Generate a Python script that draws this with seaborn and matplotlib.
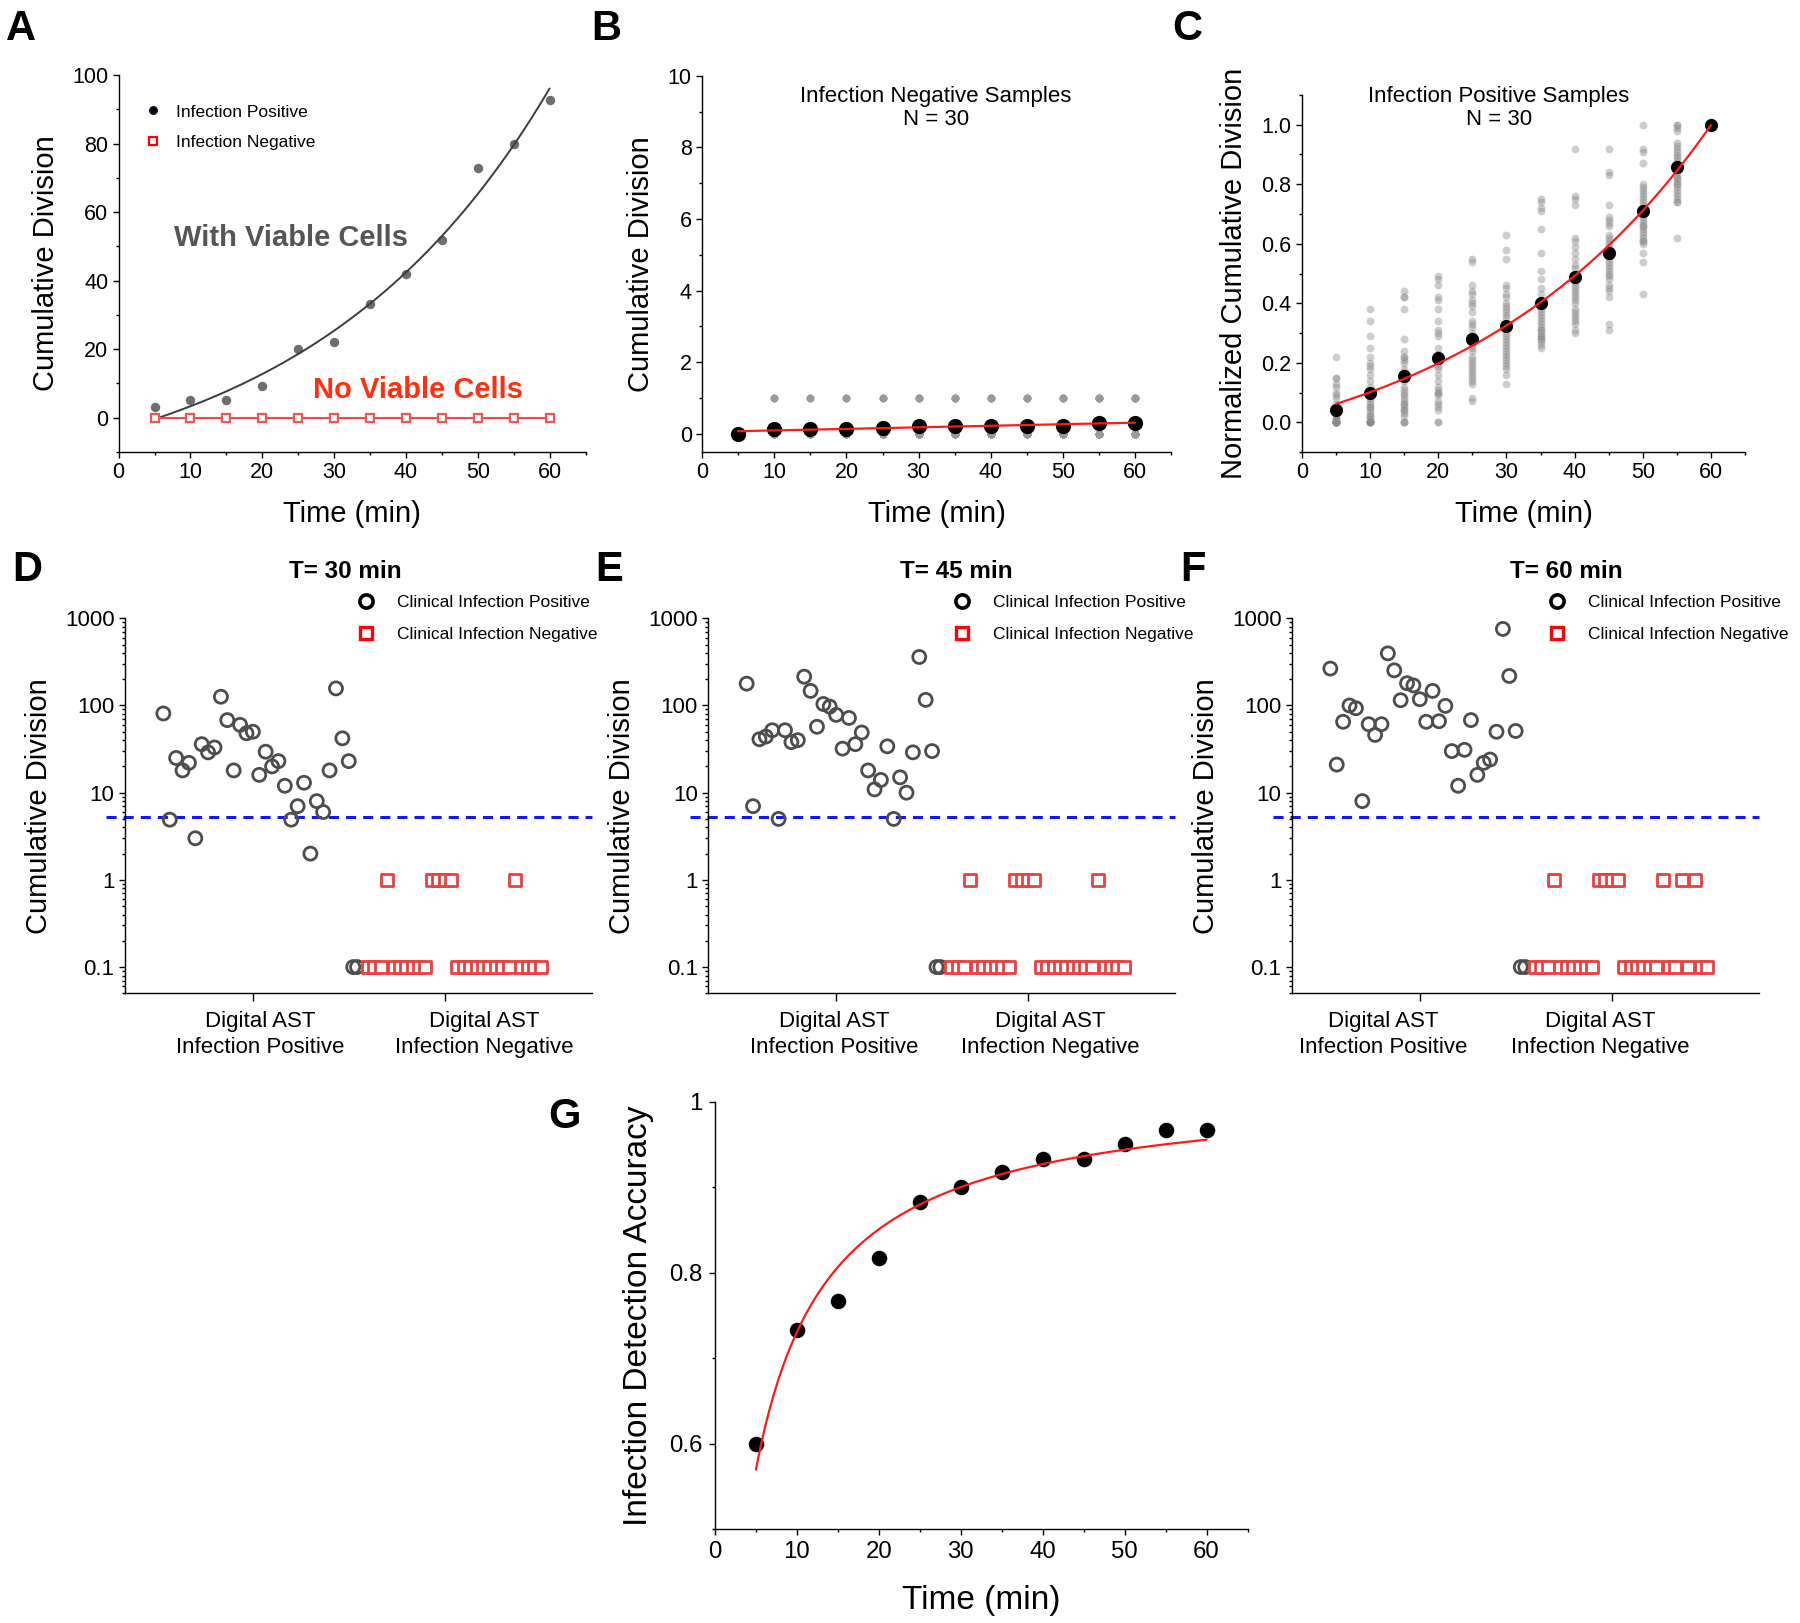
"""
Digital AST figure: cumulative division vs time, per-sample scatter at 30/45/60 min,
and infection detection accuracy.
"""

import numpy as np
import pandas as pd
import matplotlib
matplotlib.use("Agg")
import matplotlib.pyplot as plt
from matplotlib.lines import Line2D
from matplotlib.ticker import MultipleLocator, FixedLocator, FuncFormatter, LogLocator, NullFormatter
import seaborn as sns

sns.set_theme(style="ticks")
plt.rcParams["font.family"] = ["Liberation Sans", "DejaVu Sans"]
plt.rcParams["text.color"] = "black"
plt.rcParams["axes.labelcolor"] = "black"

# ──────────────────────────────────────────────────────────
#  Data
# ──────────────────────────────────────────────────────────
TIME = [5, 10, 15, 20, 25, 30, 35, 40, 45, 50, 55, 60]

# A: single positive / negative sample
A_POS = [3.0, 5.0, 5.0, 9.1, 20.0, 22.0, 33.1, 42.0, 51.9, 72.9, 79.8, 92.7]
A_NEG = [0, 0, 0, 0, 0, 0, 0, 0, 0, 0, 0, 0]

# B: infection-negative samples, number of samples (of 30) with one division
B_N = 30
B_ONE_COUNT = [0, 4, 4, 4, 5, 7, 7, 7, 7, 7, 9, 9]

# C: infection-positive samples, normalized cumulative division per sample
C_T05 = [0.22, 0.15, 0.15, 0.13, 0.12, 0.10, 0.09, 0.08, 0.06, 0.05, 0.04, 0.04, 0.03, 0.02, 0.02,
         0.01, 0.01, 0.0, 0.0, 0.0, 0.0, 0.0, 0.0, 0.0, 0.0, 0.0, 0.0, 0.0, 0.0, 0.0]
C_T10 = [0.38, 0.34, 0.29, 0.25, 0.22, 0.20, 0.19, 0.18, 0.16, 0.14, 0.12, 0.10, 0.09, 0.08, 0.07,
         0.06, 0.05, 0.05, 0.04, 0.03, 0.02, 0.02, 0.01, 0.0, 0.0, 0.0, 0.0, 0.0, 0.0, 0.0]
C_T15 = [0.44, 0.42, 0.42, 0.38, 0.28, 0.24, 0.22, 0.22, 0.21, 0.20, 0.18, 0.17, 0.15, 0.14, 0.12,
         0.11, 0.10, 0.09, 0.08, 0.07, 0.06, 0.06, 0.05, 0.04, 0.04, 0.03, 0.02, 0.0, 0.0, 0.0]
C_T20 = [0.49, 0.48, 0.46, 0.42, 0.41, 0.38, 0.34, 0.31, 0.30, 0.29, 0.25, 0.23, 0.22, 0.21, 0.20,
         0.19, 0.18, 0.16, 0.14, 0.12, 0.11, 0.10, 0.10, 0.09, 0.07, 0.06, 0.05, 0.04, 0.0, 0.0]
C_T25 = [0.55, 0.54, 0.46, 0.44, 0.43, 0.41, 0.40, 0.39, 0.37, 0.34, 0.33, 0.32, 0.30, 0.29, 0.28,
         0.26, 0.25, 0.24, 0.22, 0.21, 0.20, 0.19, 0.18, 0.17, 0.16, 0.15, 0.14, 0.13, 0.08, 0.07]
C_T30 = [0.63, 0.58, 0.55, 0.46, 0.45, 0.43, 0.42, 0.40, 0.39, 0.38, 0.37, 0.36, 0.35, 0.33, 0.32,
         0.30, 0.29, 0.28, 0.27, 0.26, 0.25, 0.24, 0.23, 0.22, 0.21, 0.20, 0.19, 0.18, 0.16, 0.13]
C_T35 = [0.75, 0.74, 0.72, 0.71, 0.65, 0.57, 0.51, 0.48, 0.45, 0.43, 0.41, 0.40, 0.39, 0.38, 0.37,
         0.36, 0.35, 0.34, 0.33, 0.32, 0.31, 0.31, 0.30, 0.29, 0.29, 0.28, 0.28, 0.27, 0.26, 0.25]
C_T40 = [0.92, 0.76, 0.75, 0.73, 0.62, 0.61, 0.59, 0.57, 0.55, 0.53, 0.52, 0.50, 0.49, 0.48, 0.47,
         0.46, 0.45, 0.44, 0.43, 0.42, 0.41, 0.40, 0.38, 0.37, 0.36, 0.35, 0.34, 0.33, 0.31, 0.30]
C_T45 = [0.92, 0.84, 0.83, 0.73, 0.69, 0.68, 0.67, 0.66, 0.63, 0.62, 0.61, 0.60, 0.59, 0.58, 0.57,
         0.56, 0.55, 0.54, 0.53, 0.52, 0.51, 0.50, 0.49, 0.48, 0.46, 0.45, 0.44, 0.42, 0.33, 0.31]
C_T50 = [1.0, 0.92, 0.91, 0.87, 0.80, 0.79, 0.78, 0.77, 0.76, 0.75, 0.74, 0.73, 0.72, 0.71, 0.70,
         0.69, 0.68, 0.67, 0.66, 0.66, 0.65, 0.64, 0.63, 0.62, 0.61, 0.61, 0.60, 0.57, 0.54, 0.43]
C_T55 = [1.0, 1.0, 0.99, 0.98, 0.94, 0.93, 0.92, 0.91, 0.90, 0.89, 0.88, 0.87, 0.86, 0.86, 0.85,
         0.84, 0.83, 0.82, 0.82, 0.81, 0.80, 0.80, 0.79, 0.78, 0.77, 0.76, 0.75, 0.74, 0.74, 0.62]
C_T60 = [1.0, 1.0, 1.0, 1.0, 1.0, 1.0, 1.0, 1.0, 1.0, 1.0]
C_MEAN = [0.04, 0.10, 0.154, 0.215, 0.279, 0.322, 0.40, 0.488, 0.568, 0.71, 0.858, 1.0]

# D-F: per-sample cumulative division (0 plotted at 0.1)
POS_X = list(range(1, 31))
NEG_X = list(range(33, 61))
D_POS = [81, 4.9, 25, 18, 22, 3.0, 36, 29, 33, 126, 68, 18, 60, 48, 50,
         16, 29.5, 20, 23, 12, 4.9, 7.0, 13, 2.0, 8.0, 6.0, 18, 157, 42, 23]
E_POS = [178, 7.0, 41, 44, 52, 5.0, 52, 38, 40, 214, 147, 57, 104, 97, 78,
         32, 72, 36, 49, 18, 10.9, 14, 34, 5.0, 15, 10, 29, 360, 116, 30]
F_POS = [265, 21, 65, 100, 93, 8.0, 61, 46, 61, 396, 253, 115, 180, 170, 118,
         65, 147, 66, 99, 30, 12, 31, 68, 16, 22, 24, 50, 755, 218, 51]
D_POS_ZERO_X = [30.7, 31.3]
E_POS_ZERO_X = [30.7, 31.3]
F_POS_ZERO_X = [30.8, 31.5]
#         33   34   35   36  37   38   39   40   41   42   43 44 45 46
D_NEG = [0.1, 0.1, 0.1, 1, 0.1, 0.1, 0.1, 0.1, 0.1, 0.1, 1, 1, 1, 1,
         0.1, 0.1, 0.1, 0.1, 0.1, 0.1, 0.1, 0.1, 0.1, 1, 0.1, 0.1, 0.1, 0.1]
E_NEG = [0.1, 0.1, 0.1, 1, 0.1, 0.1, 0.1, 0.1, 0.1, 0.1, 1, 1, 1, 1,
         0.1, 0.1, 0.1, 0.1, 0.1, 0.1, 0.1, 0.1, 0.1, 1, 0.1, 0.1, 0.1, 0.1]
F_NEG = [0.1, 0.1, 0.1, 1, 0.1, 0.1, 0.1, 0.1, 0.1, 0.1, 1, 1, 1, 1,
         0.1, 0.1, 0.1, 0.1, 0.1, 0.1, 1, 0.1, 0.1, 1, 0.1, 1, 0.1, 0.1]
THRESHOLD = 5.2
GROUP_TICKS = [15, 45]
GROUP_LABELS = ["Digital AST\nInfection Positive", "Digital AST\nInfection Negative"]

# G: detection accuracy
G_ACC = [0.600, 0.733, 0.767, 0.817, 0.883, 0.900, 0.917, 0.933, 0.933, 0.950, 0.967, 0.967]

# ──────────────────────────────────────────────────────────
#  Fits
# ──────────────────────────────────────────────────────────
def fit_exp(x, y):
    """y = y0 + a*exp(x/t), least squares over a grid of t."""
    x, y = np.asarray(x, float), np.asarray(y, float)
    best = None
    for t in np.linspace(5, 300, 3000):
        X = np.column_stack([np.ones_like(x), np.exp(x / t)])
        coef = np.linalg.lstsq(X, y, rcond=None)[0]
        err = np.sum((X @ coef - y) ** 2)
        if best is None or err < best[0]:
            best = (err, t, coef)
    _, t, (y0, a) = best
    return lambda xx: y0 + a * np.exp(xx / t)


def fit_hyperbola(x, y):
    """y = ymax*x/(k+x), least squares over a grid of k."""
    x, y = np.asarray(x, float), np.asarray(y, float)
    best = None
    for k in np.linspace(0.2, 30, 3000):
        f = x / (k + x)
        ymax = (f @ y) / (f @ f)
        err = np.sum((ymax * f - y) ** 2)
        if best is None or err < best[0]:
            best = (err, k, ymax)
    _, k, ymax = best
    return lambda xx: ymax * xx / (k + xx)


# ──────────────────────────────────────────────────────────
#  Layout helpers
# ──────────────────────────────────────────────────────────
W, H = 1800, 1623
fig = plt.figure(figsize=(W / 100, H / 100), dpi=100)
fig.patch.set_facecolor("white")


def panel(l, t, r, b):
    return fig.add_axes([l / W, 1 - b / H, (r - l) / W, (b - t) / H])


def style_axes(ax, tick_size, pad=3):
    sns.despine(ax=ax)
    for side in ("left", "bottom"):
        ax.spines[side].set_linewidth(1.0)
        ax.spines[side].set_color("black")
    ax.tick_params(which="major", direction="out", length=4.5, width=1.0,
                   colors="black", labelsize=tick_size, pad=pad)
    ax.tick_params(which="minor", direction="out", length=2.5, width=1.0, colors="black")
    ax.grid(False)
    ax.set_facecolor("white")


def time_axis(ax):
    ax.set_xlim(0, 65)
    ax.xaxis.set_major_locator(FixedLocator([0, 10, 20, 30, 40, 50, 60]))
    ax.xaxis.set_minor_locator(MultipleLocator(5))


def letter(x, y, s):
    fig.text(x / W, 1 - y / H, s, fontsize=30, fontweight="bold", ha="left", va="top")


fmt_g = FuncFormatter(lambda v, _: f"{v:g}")
LABEL_FS = 21
TICK_FS = 15.5

# ──────────────────────────────────────────────────────────
#  A
# ──────────────────────────────────────────────────────────
ax = panel(118.6, 75, 585.5, 451.8)
sns.scatterplot(x=TIME, y=A_POS, ax=ax, color="#6d6d6d", s=46, linewidth=0, zorder=3)
xx = np.linspace(TIME[0], TIME[-1], 200)
fa = fit_exp(TIME, A_POS)
sns.lineplot(x=xx, y=fa(xx), ax=ax, color="#3c3c3c", lw=1.4, zorder=4)
sns.lineplot(x=TIME, y=A_NEG, ax=ax, color="#ef4b4b", lw=1.5, marker="s", ms=6,
             mfc="white", mec="#ef5555", mew=1.6, zorder=5)
time_axis(ax)
ax.set_ylim(-10, 100)
ax.yaxis.set_major_locator(FixedLocator([0, 20, 40, 60, 80, 100]))
ax.yaxis.set_minor_locator(MultipleLocator(10))
style_axes(ax, TICK_FS)
ax.set_xlabel("Time (min)", fontsize=LABEL_FS)
ax.set_ylabel("Cumulative Division", fontsize=LABEL_FS)
ax.xaxis.set_label_coords(0.5, -0.128)
ax.yaxis.set_label_coords(-0.125, 0.5)
ax.text(7.7, 52.4, "With Viable Cells", fontsize=21, fontweight="bold", color="#555555",
        ha="left", va="center")
ax.text(27.1, 8.1, "No Viable Cells", fontsize=21, fontweight="bold", color="#ff3010",
        ha="left", va="center")
ax.legend(handles=[
    Line2D([], [], ls="", marker="o", ms=5.5, color="black", mec="#1a1a40", label="Infection Positive"),
    Line2D([], [], ls="", marker="s", ms=6, mfc="white", mec="red", mew=1.6, label="Infection Negative"),
], loc="upper left", bbox_to_anchor=(0.058, 0.922), frameon=False, fontsize=12.5,
    handlelength=0.8, handletextpad=0.93, labelspacing=0.9, borderaxespad=0, borderpad=0)

# ──────────────────────────────────────────────────────────
#  B
# ──────────────────────────────────────────────────────────
ax = panel(702.2, 75.8, 1171, 451.8)
b_rows = []
for t, k in zip(TIME, B_ONE_COUNT):
    b_rows += [(t, 1.0)] * k + [(t, 0.0)] * (B_N - k)
b_df = pd.DataFrame(b_rows, columns=["time", "division"])
b_mean = b_df.groupby("time", as_index=False)["division"].mean()
sns.scatterplot(data=b_df, x="time", y="division", ax=ax, color="#9a9a9a", s=30, linewidth=0, zorder=2)
sns.scatterplot(data=b_mean, x="time", y="division", ax=ax, color="black", s=120, linewidth=0, zorder=3)
coef = np.polyfit(b_mean["time"], b_mean["division"], 1)
sns.lineplot(x=xx, y=np.polyval(coef, xx), ax=ax, color="#ff1a1a", lw=1.6, zorder=4)
time_axis(ax)
ax.set_ylim(-0.5, 10)
ax.yaxis.set_major_locator(FixedLocator([0, 2, 4, 6, 8, 10]))
ax.yaxis.set_minor_locator(MultipleLocator(1))
style_axes(ax, TICK_FS)
ax.set_xlabel("Time (min)", fontsize=LABEL_FS)
ax.set_ylabel("Cumulative Division", fontsize=LABEL_FS)
ax.xaxis.set_label_coords(0.5, -0.128)
ax.yaxis.set_label_coords(-0.10, 0.5)
ax.text(32.4, 9.1, "Infection Negative Samples\nN = 30", fontsize=16, ha="center", va="center",
        linespacing=1.15)

# ──────────────────────────────────────────────────────────
#  C
# ──────────────────────────────────────────────────────────
ax = panel(1302, 95, 1745, 452)
c_lists = [C_T05, C_T10, C_T15, C_T20, C_T25, C_T30, C_T35, C_T40, C_T45, C_T50, C_T55, C_T60]
c_df = pd.DataFrame([(t, v) for t, vals in zip(TIME, c_lists) for v in vals], columns=["time", "norm"])
sns.scatterplot(data=c_df, x="time", y="norm", ax=ax, color="#8a8a8a", alpha=0.42, s=32,
                linewidth=0, zorder=2)
sns.scatterplot(x=TIME, y=C_MEAN, ax=ax, color="black", s=90, linewidth=0, zorder=3)
fc = fit_exp(TIME, C_MEAN)
sns.lineplot(x=xx, y=fc(xx), ax=ax, color="#ff1a1a", lw=1.6, zorder=4)
time_axis(ax)
ax.set_ylim(-0.1, 1.1)
ax.yaxis.set_major_locator(FixedLocator([0, 0.2, 0.4, 0.6, 0.8, 1.0]))
ax.yaxis.set_minor_locator(MultipleLocator(0.1))
ax.yaxis.set_major_formatter(FuncFormatter(lambda v, _: f"{v:.1f}"))
style_axes(ax, TICK_FS)
ax.set_xlabel("Time (min)", fontsize=LABEL_FS)
ax.set_ylabel("Normalized Cumulative Division", fontsize=LABEL_FS)
ax.xaxis.set_label_coords(0.5, -0.134)
ax.yaxis.set_label_coords(-0.122, 0.5)
ax.text(28.9, 1.056, "Infection Positive Samples\nN = 30", fontsize=16, ha="center", va="center",
        linespacing=1.15, clip_on=False)

# ──────────────────────────────────────────────────────────
#  D-F
# ──────────────────────────────────────────────────────────
def group_panel(box, pos_vals, zero_x, neg_vals, title, title_x, legend_x, label_x):
    ax = panel(*box)
    ax.axhline(THRESHOLD, xmin=-0.04, xmax=1.0, color="#1414ff", lw=2.2,
               ls=(0, (3.3, 2.3)), zorder=1, clip_on=False)
    sns.scatterplot(x=POS_X, y=pos_vals, ax=ax, marker="o", s=88, color="#4d4d4d",
                    facecolors="none", edgecolor="#4d4d4d", linewidth=2.0, zorder=3)
    sns.scatterplot(x=zero_x, y=[0.1] * len(zero_x), ax=ax, marker="o", s=88, color="#4d4d4d",
                    facecolors="none", edgecolor="#4d4d4d", linewidth=2.0, zorder=3)
    sns.scatterplot(x=NEG_X, y=neg_vals, ax=ax, marker="s", s=78, color="#ec3f3f",
                    facecolors="white", edgecolor="#ec3f3f", linewidth=2.0, zorder=4)
    ax.set_yscale("log")
    ax.set_ylim(0.05, 1000)
    ax.set_xlim(-5, 68)
    ax.yaxis.set_major_locator(FixedLocator([0.1, 1, 10, 100, 1000]))
    ax.yaxis.set_major_formatter(fmt_g)
    ax.yaxis.set_minor_locator(LogLocator(base=10, subs=np.arange(2, 10)))
    ax.yaxis.set_minor_formatter(NullFormatter())
    ax.xaxis.set_major_locator(FixedLocator(GROUP_TICKS))
    ax.set_xticklabels(["", ""])
    style_axes(ax, 16)
    ax.tick_params(axis="x", which="major", length=5.5)
    trans = ax.get_xaxis_transform()
    for lx, lab in zip(label_x, GROUP_LABELS):
        ax.text(lx, -0.109, lab, transform=trans, ha="center", va="center", fontsize=16,
                linespacing=1.33)
    ax.set_xlabel("")
    ax.set_ylabel("Cumulative Division", fontsize=LABEL_FS)
    ax.yaxis.set_label_coords(-0.154, 0.5)
    ax.text(title_x, 1.126, title, transform=ax.transAxes, ha="center", va="center",
            fontsize=17.5, fontweight="bold")
    ax.legend(handles=[
        Line2D([], [], ls="", marker="o", ms=9.5, mfc="none", mec="black", mew=2.6,
               label="Clinical Infection Positive"),
        Line2D([], [], ls="", marker="s", ms=8.5, mfc="none", mec="red", mew=2.4,
               label="Clinical Infection Negative"),
    ], loc="upper left", bbox_to_anchor=(legend_x, 1.062), frameon=False, fontsize=12.5,
        handlelength=1.0, handletextpad=1.32, labelspacing=0.95, borderaxespad=0, borderpad=0)
    return ax


group_panel((125, 618.3, 591.7, 993.3), D_POS, D_POS_ZERO_X, D_NEG, "T= 30 min", 0.472, 0.4975, [16.1, 51.2])
group_panel((708.3, 618.3, 1175, 993.3), E_POS, E_POS_ZERO_X, E_NEG, "T= 45 min", 0.531, 0.524, [14.7, 48.5])
group_panel((1292, 618.3, 1758.5, 993.3), F_POS, F_POS_ZERO_X, F_NEG, "T= 60 min", 0.587, 0.549, [9.3, 43.2])

# ──────────────────────────────────────────────────────────
#  G
# ──────────────────────────────────────────────────────────
ax = panel(715, 1101.5, 1247.5, 1529)
sns.scatterplot(x=TIME, y=G_ACC, ax=ax, color="black", s=125, linewidth=0, zorder=3)
fg = fit_hyperbola(TIME, G_ACC)
sns.lineplot(x=xx, y=fg(xx), ax=ax, color="#ff1a1a", lw=1.6, zorder=4)
time_axis(ax)
ax.set_ylim(0.5, 1.0)
ax.yaxis.set_major_locator(FixedLocator([0.6, 0.8, 1.0]))
ax.yaxis.set_minor_locator(MultipleLocator(0.1))
ax.yaxis.set_major_formatter(fmt_g)
style_axes(ax, 17.3, pad=4.5)
ax.set_xlabel("Time (min)", fontsize=24)
ax.set_ylabel("Infection Detection Accuracy", fontsize=24)
ax.xaxis.set_label_coords(0.5, -0.132)
ax.yaxis.set_label_coords(-0.115, 0.5)

# panel letters
letter(6, 9, "A")
letter(591, 9, "B")
letter(1172, 9, "C")
letter(12, 550, "D")
letter(595, 550, "E")
letter(1180, 550, "F")
letter(548, 1097, "G")

fig.savefig("out.png", dpi=100, facecolor="white")
